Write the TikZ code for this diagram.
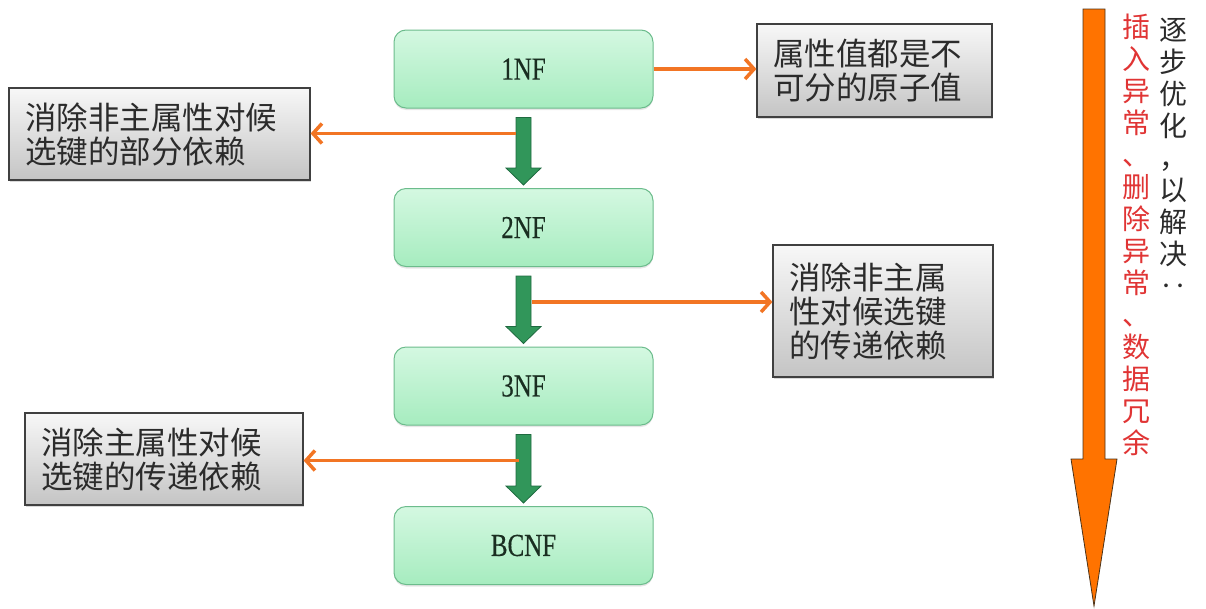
\documentclass[tikz,border=0pt]{standalone}
\usepackage{fontspec}
\setmainfont{Liberation Serif}
\newfontfamily\cjk{Noto Sans CJK SC}
\newfontfamily\nffont[FakeStretch=0.78,FakeBold=0.4]{Liberation Serif}
\usetikzlibrary{calc,arrows.meta,shadows}
\definecolor{mintline}{HTML}{6CBC8C}
\definecolor{minttop}{HTML}{D4F8E1}
\definecolor{mintbot}{HTML}{A6ECBF}
\definecolor{nftext}{HTML}{1A2E21}
\definecolor{stepgreen}{HTML}{31965A}
\definecolor{stepedge}{HTML}{1F6A40}
\definecolor{linkorange}{HTML}{F27524}
\definecolor{bigorange}{HTML}{FF7300}
\definecolor{redtext}{HTML}{E03434}
\definecolor{graytext}{HTML}{2B2B2B}
\begin{document}
\begin{tikzpicture}[x=1pt,y=-1pt,
  nf/.style={draw=mintline,line width=1pt,rounded corners=12pt,top color=minttop,bottom color=mintbot,
    minimum width=259pt,minimum height=78pt,text=nftext,font=\nffont\fontsize{32}{34}\selectfont,
    drop shadow={shadow xshift=0pt,shadow yshift=-2pt,opacity=0.2}},
  note/.style={draw=black!75,line width=1.2pt,top color=black!3,bottom color=black!23,text=graytext,
    font=\cjk\fontsize{31.5}{34}\selectfont,align=left,inner xsep=16pt,inner ysep=0pt,
    drop shadow={shadow xshift=1pt,shadow yshift=-2pt,opacity=0.3}},
  link/.style={draw=linkorange,line width=3.5pt,-{Straight Barb[length=9pt,width=20pt]}},
  stepdown/.style={fill=stepgreen,draw=stepedge,line width=0.8pt},
  column/.style={font=\cjk\fontsize{28}{32}\selectfont,align=center,inner sep=0pt,anchor=north}]
\useasboundingbox (0,0) rectangle (1206,608);

\node[nf] (n1) at (523.5,69) {1NF};
\node[nf] (n2) at (523.5,227.5) {2NF};
\node[nf] (n3) at (523.5,386) {3NF};
\node[nf] (n4) at (523.5,545.5) {BCNF};

\node[note,minimum width=235pt,text width=203pt,minimum height=93pt] (atom) at (874.5,70.5) {属性值都是不\\可分的原子值};
\node[note,minimum width=301pt,text width=269pt,minimum height=92pt] (part) at (159.5,134) {消除非主属性对候\\选键的部分依赖};
\node[note,minimum width=220pt,text width=188pt,minimum height=132pt] (trans) at (883,311) {消除非主属\\性对候选键\\的传递依赖};
\node[note,minimum width=278pt,text width=246pt,minimum height=92pt] (bc) at (164,459) {消除主属性对候\\选键的传递依赖};

\foreach \a/\b in {n1/n2,n2/n3,n3/n4}
  \draw[stepdown] ($(\a.south)+(-7.5,9)$) -- ($(\a.south)+(7.5,9)$) -- ($(\b.north)+(7.5,-20)$)
    -- ($(\b.north)+(17.5,-20)$) -- ($(\b.north)+(0,-3)$) -- ($(\b.north)+(-17.5,-20)$)
    -- ($(\b.north)+(-7.5,-20)$) -- cycle;

\coordinate (o1) at ($(n1.south)+(-7.5,25)$);
\coordinate (o2) at ($(n2.south)+(8.5,35)$);
\coordinate (o3) at ($(n3.south)+(-5,35)$);
\draw[link] (n1.east) -- (n1.east -| atom.west);
\draw[link] (o1) -- (o1 -| part.east);
\draw[link] (o2) -- (o2 -| trans.west);
\draw[link] (o3) -- (o3 -| bc.east);

\draw[fill=bigorange,draw=black!60!brown,line width=0.8pt] (1083,9) -- (1105,9) -- (1105,459) -- (1117,459)
  -- (1094,606) -- (1071,459) -- (1083,459) -- cycle;
\node[column,text=redtext] (issues) at (1136,14) {插\\入\\异\\常\\、\\删\\除\\异\\常\\、\\数\\据\\冗\\余};
\node[column,text=graytext] (goal) at (1173,18) {逐\\步\\优\\化\\，\\以\\解\\决\\‥};
\end{tikzpicture}
\end{document}
